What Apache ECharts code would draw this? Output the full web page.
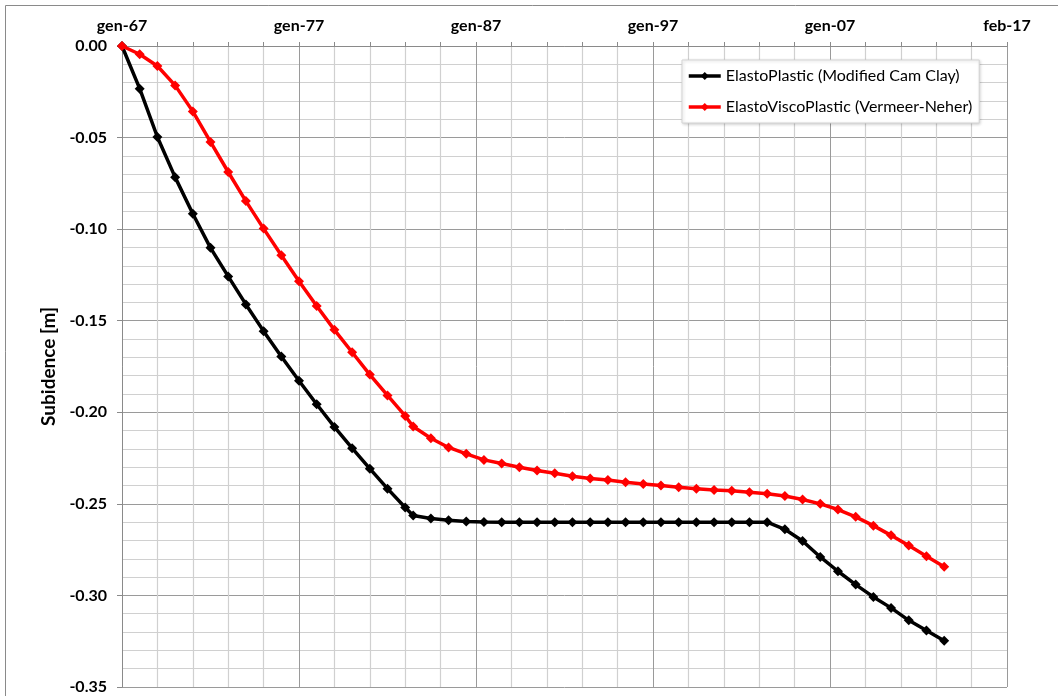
<!DOCTYPE html>
<html>
<head>
<meta charset="utf-8">
<title>Subsidence</title>
<script src="https://cdn.jsdelivr.net/npm/echarts@6/dist/echarts.min.js"></script>
<style>
  html, body { margin: 0; padding: 0; background: #ffffff; }
  #chart { width: 1058px; height: 696px; }
</style>
</head>
<body>
<div id="chart"></div>
<script>
// Time of each computed state, in decimal years
const times = [
  1967, 1968, 1969, 1970, 1971, 1972, 1973, 1974, 1975, 1976,
  1977, 1978, 1979, 1980, 1981, 1982, 1983,
  1983.45, 1984.45, 1985.45, 1986.45, 1987.45, 1988.45, 1989.45, 1990.45,
  1991.45, 1992.45, 1993.45, 1994.45, 1995.45, 1996.45, 1997.45, 1998.45,
  1999.45, 2000.45, 2001.45, 2002.45, 2003.45, 2004.45, 2005.45, 2006.45,
  2007.45, 2008.45, 2009.45, 2010.45, 2011.45, 2012.45, 2013.45
];

// Subsidence [m], ElastoPlastic model (Modified Cam Clay)
const elastoPlastic = [
  0.0000, -0.0233, -0.0497, -0.0716, -0.0916, -0.1102, -0.1258, -0.1411, -0.1557, -0.1695,
  -0.1828, -0.1956, -0.2080, -0.2196, -0.2308, -0.2417, -0.2520,
  -0.2564, -0.2580, -0.2590, -0.2596, -0.2599, -0.2600, -0.2600, -0.2600,
  -0.2600, -0.2600, -0.2600, -0.2600, -0.2600, -0.2600, -0.2600, -0.2600,
  -0.2600, -0.2600, -0.2600, -0.2600, -0.2600, -0.2639, -0.2703, -0.2790,
  -0.2868, -0.2941, -0.3008, -0.3068, -0.3136, -0.3191, -0.3247
];

// Subsidence [m], ElastoViscoPlastic model (Vermeer-Neher)
const elastoViscoPlastic = [
  0.0000, -0.0045, -0.0109, -0.0215, -0.0357, -0.0524, -0.0688, -0.0847, -0.0997, -0.1143,
  -0.1284, -0.1420, -0.1550, -0.1672, -0.1794, -0.1908, -0.2020,
  -0.2078, -0.2142, -0.2192, -0.2227, -0.2260, -0.2280, -0.2300, -0.2318,
  -0.2333, -0.2349, -0.2362, -0.2370, -0.2382, -0.2391, -0.2400, -0.2409,
  -0.2417, -0.2424, -0.2429, -0.2437, -0.2445, -0.2457, -0.2476, -0.2500,
  -0.2531, -0.2571, -0.2619, -0.2672, -0.2728, -0.2786, -0.2843
];

// Date labels on the top axis, one per 10-year tick
const xTickLabels = ['gen-67', 'gen-77', 'gen-87', 'gen-97', 'gen-07', 'feb-17'];
const xStart = 1967, xEnd = 2017, xStep = 10;

const seriesNames = ['ElastoPlastic (Modified Cam Clay)', 'ElastoViscoPlastic (Vermeer-Neher)'];
const seriesColors = ['#000000', '#ff0000'];

const FONT = 'Lato, "Open Sans", sans-serif';
const pairs = (ys) => times.map((t, i) => [t, ys[i]]);

const chart = echarts.init(document.getElementById('chart'), null, { renderer: 'canvas' });

chart.setOption({
  animation: false,
  backgroundColor: '#ffffff',
  graphic: [{
    type: 'rect',
    shape: { x: 5.5, y: 5.5, width: 1200, height: 900 },
    style: { fill: 'none', stroke: '#8a8a8a', lineWidth: 1 },
    silent: true,
    z: -10
  }],
  grid: { left: 122, top: 46, width: 885, height: 641, containLabel: false },
  legend: {
    orient: 'vertical',
    left: 682,
    top: 60,
    padding: [8, 7, 8, 5],
    itemGap: 15,
    itemWidth: 32,
    itemHeight: 10,
    backgroundColor: '#ffffff',
    borderColor: '#d4d4d4',
    borderWidth: 1,
    shadowBlur: 3,
    shadowColor: 'rgba(0,0,0,0.18)',
    shadowOffsetX: 1,
    shadowOffsetY: 1,
    lineStyle: { width: 3.5 },
    textStyle: { fontFamily: FONT, fontSize: 16, color: '#000000' },
    data: seriesNames
  },
  xAxis: {
    type: 'value',
    position: 'top',
    min: xStart,
    max: xEnd,
    interval: xStep,
    axisLine: { show: true, onZero: false, lineStyle: { color: '#8a8a8a', width: 1 } },
    axisTick: { show: true, inside: false, length: 4, lineStyle: { color: '#8a8a8a' } },
    minorTick: { show: true, splitNumber: 5, length: 4, lineStyle: { color: '#8a8a8a' } },
    splitLine: { show: true, lineStyle: { color: '#9a9a9a', width: 1 } },
    minorSplitLine: { show: true, lineStyle: { color: '#d0d0d0', width: 1.2 } },
    axisLabel: {
      margin: 12,
      fontFamily: FONT,
      fontSize: 16,
      fontWeight: 'bold',
      color: '#000000',
      showMinLabel: true,
      showMaxLabel: true,
      formatter: (v) => xTickLabels[Math.round((v - xStart) / xStep)] || ''
    }
  },
  yAxis: {
    type: 'value',
    min: -0.35,
    max: 0,
    interval: 0.05,
    name: 'Subidence [m]',
    nameLocation: 'middle',
    nameGap: 58,
    nameRotate: 90,
    nameTextStyle: { fontFamily: FONT, fontSize: 19, fontWeight: 'bold', color: '#000000' },
    axisLine: { show: true, onZero: false, lineStyle: { color: '#8a8a8a', width: 1 } },
    axisTick: { show: true, inside: false, length: 5, lineStyle: { color: '#8a8a8a' } },
    minorTick: { show: false, splitNumber: 5 },
    splitLine: { show: true, lineStyle: { color: '#9a9a9a', width: 1 } },
    minorSplitLine: { show: true, lineStyle: { color: '#d0d0d0', width: 1.2 } },
    axisLabel: {
      margin: 15,
      fontFamily: FONT,
      fontSize: 16,
      fontWeight: 'bold',
      color: '#000000',
      formatter: (v) => (Math.abs(v) < 1e-9 ? 0 : v).toFixed(2)
    }
  },
  series: [
    {
      name: seriesNames[0],
      type: 'line',
      data: pairs(elastoPlastic),
      symbol: 'diamond',
      symbolSize: 10,
      showAllSymbol: true,
      lineStyle: { color: seriesColors[0], width: 3.5 },
      itemStyle: { color: seriesColors[0] },
      z: 3
    },
    {
      name: seriesNames[1],
      type: 'line',
      data: pairs(elastoViscoPlastic),
      symbol: 'diamond',
      symbolSize: 10,
      showAllSymbol: true,
      lineStyle: { color: seriesColors[1], width: 3.5 },
      itemStyle: { color: seriesColors[1] },
      z: 4
    }
  ]
});
</script>
</body>
</html>
